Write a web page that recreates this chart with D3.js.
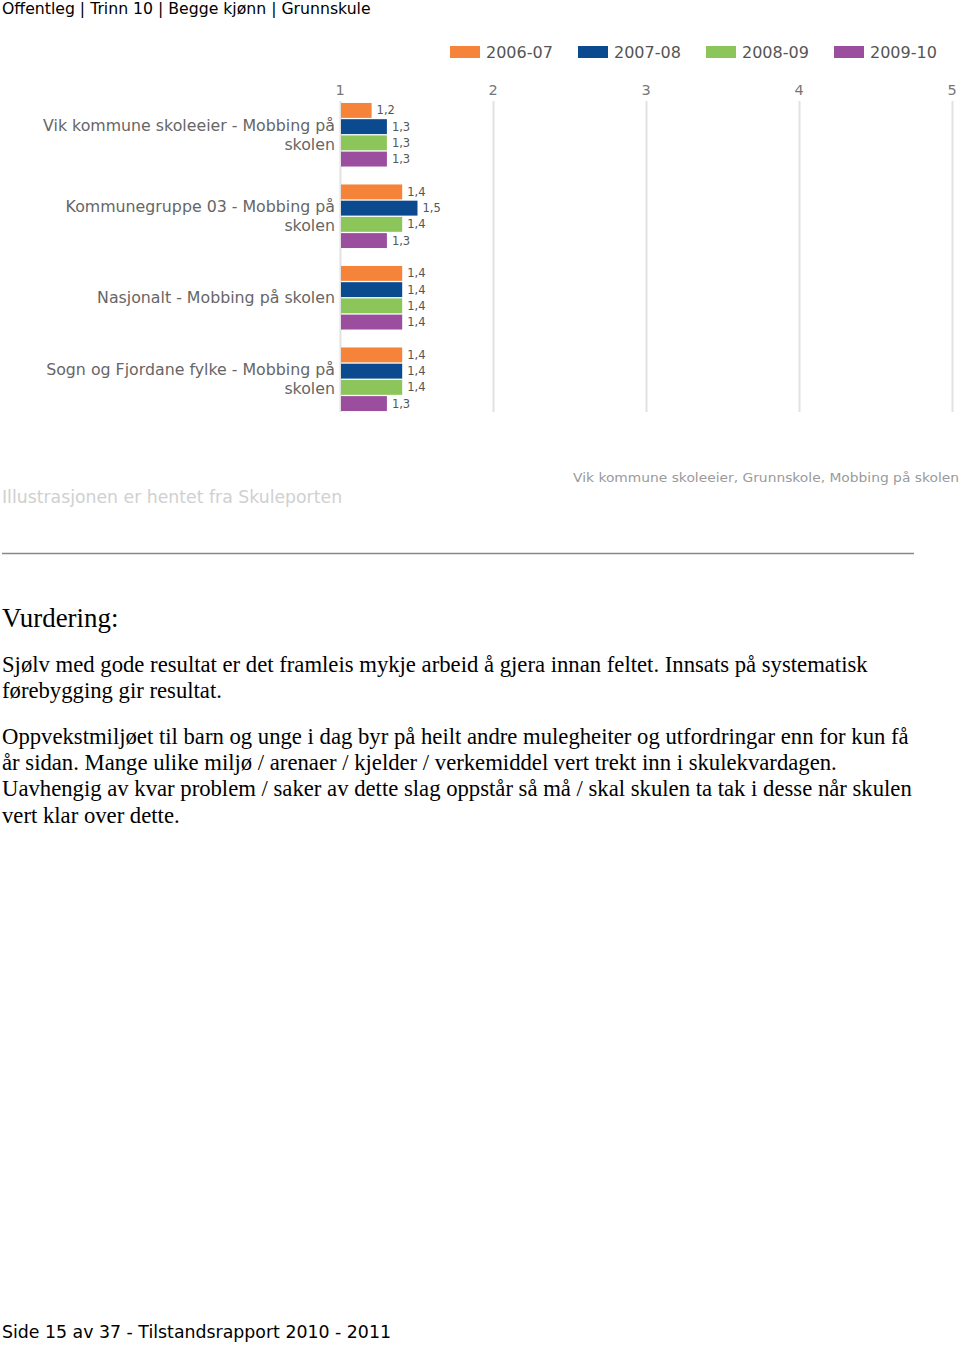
<!DOCTYPE html>
<html><head><meta charset="utf-8">
<script src="https://cdn.jsdelivr.net/npm/d3@7"></script>
<style>
html,body{margin:0;padding:0;background:#fff;}
svg{display:block;}
</style></head>
<body>
<svg id="page" width="960" height="1345"></svg>
<script>
const categories = [
  ["Vik kommune skoleeier - Mobbing på", "skolen"],
  ["Kommunegruppe 03 - Mobbing på", "skolen"],
  ["Nasjonalt - Mobbing på skolen"],
  ["Sogn og Fjordane fylke - Mobbing på", "skolen"]
];
const series = ["2006-07", "2007-08", "2008-09", "2009-10"];
const colors = ["#F5833A", "#0B4A8E", "#8CC55A", "#9B4D9E"];
const values = [
  [1.2, 1.3, 1.3, 1.3],
  [1.4, 1.5, 1.4, 1.3],
  [1.4, 1.4, 1.4, 1.4],
  [1.4, 1.4, 1.4, 1.3]
];
const ticks = [1, 2, 3, 4, 5];
const header = "Offentleg | Trinn 10 | Begge kjønn | Grunnskule";
const sourceNote = "Illustrasjonen er hentet fra Skuleporten";
const chartCaption = "Vik kommune skoleeier, Grunnskole, Mobbing på skolen";
const heading = "Vurdering:";
const bodyLines = [
  ["Sjølv med gode resultat er det framleis mykje arbeid å gjera innan feltet. Innsats på systematisk",
   "førebygging gir resultat."],
  ["Oppvekstmiljøet til barn og unge i dag byr på heilt andre mulegheiter og utfordringar enn for kun få",
   "år sidan. Mange ulike miljø / arenaer / kjelder / verkemiddel vert trekt inn i skulekvardagen.",
   "Uavhengig av kvar problem / saker av dette slag oppstår så må / skal skulen ta tak i desse når skulen",
   "vert klar over dette."]
];
const footer = "Side 15 av 37 - Tilstandsrapport 2010 - 2011";

const svg = d3.select("#page");
const sans = "Verdana, 'DejaVu Sans', sans-serif";
const serif = "'Liberation Serif', 'Times New Roman', serif";

// header
svg.append("text").attr("x", 2).attr("y", 14).attr("font-family", sans)
  .attr("font-size", 15.7).attr("fill", "#000").text(header);

// scales
const x = d3.scaleLinear().domain([1, 5]).range([340, 952]);
const y = d3.scaleBand().domain(d3.range(categories.length)).range([94, 420]).paddingInner(0.22).paddingOuter(0.11);
const yi = d3.scaleBand().domain(d3.range(series.length)).range([0, y.bandwidth()]).paddingInner(0.08);

// gridlines
const g = svg.append("g");
g.selectAll("line.grid").data(ticks).join("line")
  .attr("x1", d => x(d) + 0.5).attr("x2", d => x(d) + 0.5)
  .attr("y1", 101).attr("y2", 412)
  .attr("stroke", "#e2e2e2").attr("stroke-width", 2);
g.selectAll("text.tick").data(ticks).join("text")
  .attr("x", d => x(d)).attr("y", 95).attr("text-anchor", "middle")
  .attr("font-family", sans).attr("font-size", 14.5).attr("fill", "#777")
  .text(d => d);

// bars
categories.forEach((cat, ci) => {
  const gg = g.append("g").attr("transform", `translate(0,${y(ci)})`);
  gg.selectAll("rect").data(values[ci]).join("rect")
    .attr("x", x(1) + 1).attr("y", (d, i) => yi(i))
    .attr("width", d => x(d) - x(1)).attr("height", yi.bandwidth())
    .attr("fill", (d, i) => colors[i]);
  gg.selectAll("text.val").data(values[ci]).join("text")
    .attr("x", d => x(d) + 6).attr("y", (d, i) => yi(i) + yi.bandwidth() / 2 + 4)
    .attr("font-family", sans).attr("font-size", 11.5).attr("fill", "#555")
    .text(d => d3.format(".1f")(d).replace(".", ","));
  const cy = y(ci) + y.bandwidth() / 2;
  const n = cat.length;
  cat.forEach((line, li) => {
    gg.append("text")
      .attr("x", 335).attr("y", cy - y(ci) + (li - (n - 1) / 2) * 19 + 5.5)
      .attr("text-anchor", "end").attr("font-family", sans).attr("font-size", 15.8)
      .attr("fill", "#666").text(line);
  });
});

// legend
const lg = svg.append("g");
series.forEach((s, i) => {
  const lx = 450 + i * 128;
  lg.append("rect").attr("x", lx).attr("y", 46).attr("width", 30).attr("height", 12).attr("fill", colors[i]);
  lg.append("text").attr("x", lx + 36).attr("y", 58).attr("font-family", sans)
    .attr("font-size", 16).attr("fill", "#555").text(s);
});

// notes
svg.append("text").attr("x", 2).attr("y", 503).attr("font-family", sans)
  .attr("font-size", 17.3).attr("fill", "#d0d0d0").text(sourceNote);
svg.append("text").attr("x", 573).attr("y", 482).attr("font-family", sans)
  .attr("font-size", 13).attr("fill", "#9a9a9a").attr("textLength", 386)
  .attr("lengthAdjust", "spacingAndGlyphs").text(chartCaption);

// rule
svg.append("line").attr("x1", 2).attr("x2", 914).attr("y1", 553.5).attr("y2", 553.5)
  .attr("stroke", "#888").attr("stroke-width", 1.5);

// heading and body
svg.append("text").attr("x", 2).attr("y", 627).attr("font-family", serif)
  .attr("font-size", 26.9).attr("fill", "#000").text(heading);
let by = 672;
bodyLines.forEach((para, pi) => {
  para.forEach(line => {
    svg.append("text").attr("x", 2).attr("y", by).attr("font-family", serif)
      .attr("font-size", 22.7).attr("fill", "#000").text(line);
    by += 26.3;
  });
  by += 19;
});

svg.append("text").attr("x", 2).attr("y", 1338).attr("font-family", sans)
  .attr("font-size", 17.35).attr("fill", "#000").text(footer);
</script>
</body></html>
